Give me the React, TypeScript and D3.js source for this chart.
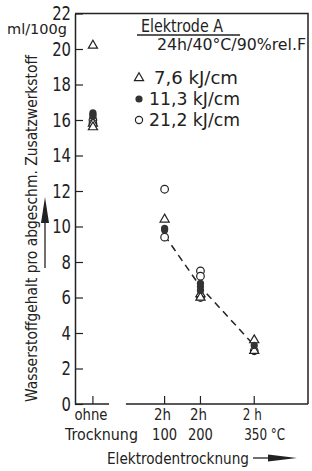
import React, { useRef, useEffect } from 'react';
import * as d3 from 'd3';

// categories on the x axis, placed by drying temperature ("ohne" sits left of the axis break)
const categories = ['ohne', '100', '200', '350'];
const categoryTemps = [-100, 100, 200, 350];
const tickTop = ['ohne', '2h', '2h', '2 h'];
const tickBottom = ['Trocknung', '100', '200', '350 °C'];

const yTicks = [0, 2, 4, 6, 8, 10, 12, 14, 16, 18, 20, 22];

// 7,6 kJ/cm  (open triangles)
const tri76Cats = ['ohne', 'ohne', 'ohne', '100', '200', '200', '350', '350'];
const tri76Values = [20.2, 15.8, 15.6, 10.4, 6.2, 6.0, 3.6, 3.0];

// 11,3 kJ/cm  (filled circles)
const dot113Cats = ['ohne', 'ohne', 'ohne', '100', '100', '200', '200', '200', '350'];
const dot113Values = [16.4, 16.3, 16.2, 9.9, 9.8, 6.8, 6.6, 6.4, 3.3];

// 21,2 kJ/cm  (open circles)
const ring212Cats = ['ohne', 'ohne', '100', '100', '200', '200', '200', '350'];
const ring212Values = [16.0, 15.8, 12.1, 9.4, 7.5, 7.2, 6.0, 3.0];

// dashed trend line
const trendCats = ['100', '200', '350'];
const trendValues = [9.5, 6.6, 3.3];

const legendLabels = ['7,6 kJ/cm', '11,3 kJ/cm', '21,2 kJ/cm'];

const FONT = "'DejaVu Sans', sans-serif";
const INK = '#222';

const App = () => {
    const ref = useRef<SVGSVGElement>(null);

    useEffect(() => {
        const svg = d3.select(ref.current);
        svg.selectAll('*').remove();

        const x = d3.scaleLinear().domain([-150, 500]).range([75, 308]);
        const y = d3.scaleLinear().domain([0, 22]).range([404, 13.5]);
        const xCat = (c: string) => x(categoryTemps[categories.indexOf(c)]);

        const label = (tx: number, ty: number, size: number, text: string, len?: number) => {
            const t = svg.append('text')
                .attr('x', tx).attr('y', ty)
                .attr('font-family', FONT)
                .attr('font-size', size)
                .attr('font-stretch', 'condensed')
                .attr('fill', INK)
                .text(text);
            if (len) t.attr('textLength', len).attr('lengthAdjust', 'spacingAndGlyphs');
            return t;
        };

        // frame top + right
        svg.append('path')
            .attr('d', `M${x(-150)},${y(22)}H${x(500)}V${y(0)}`)
            .attr('fill', 'none')
            .attr('stroke', INK)
            .attr('stroke-width', 1.5);

        // y axis with inward ticks, tall narrow digits
        const sx = 0.78;
        const yAxis = svg.append('g')
            .attr('transform', `translate(${x(-150)},0)`)
            .call(d3.axisLeft(y).tickValues(yTicks).tickSizeInner(-8).tickSizeOuter(0).tickPadding(4));
        yAxis.select('.domain').attr('stroke', INK).attr('stroke-width', 1.5);
        yAxis.selectAll('.tick line').attr('stroke', INK).attr('stroke-width', 1.2);
        yAxis.selectAll('.tick text')
            .attr('font-family', FONT)
            .attr('font-size', 19)
            .attr('transform', `scale(${sx},1)`)
            .attr('x', -4 / sx)
            .attr('fill', INK);

        // broken x axis
        [[-150, -55], [-8, 500]].forEach(([a, b]) => {
            svg.append('line')
                .attr('x1', x(a)).attr('x2', x(b))
                .attr('y1', y(0)).attr('y2', y(0))
                .attr('stroke', INK)
                .attr('stroke-width', 1.5);
        });
        categories.forEach((c, i) => {
            const cx = xCat(c);
            svg.append('line')
                .attr('x1', cx).attr('x2', cx)
                .attr('y1', y(0)).attr('y2', y(0) - 8)
                .attr('stroke', INK)
                .attr('stroke-width', 1.2);
            const topLen = i === 0 ? 33 : i === 3 ? 19 : 17;
            label(cx - 2, 420, 16.5, tickTop[i], topLen).attr('text-anchor', 'middle');
            if (i === 0) label(65, 440, 16.5, tickBottom[i], 73);
            else if (i === 3) label(cx - 10, 440, 16.5, tickBottom[i], 41);
            else label(cx, 440, 16.5, tickBottom[i], 25).attr('text-anchor', 'middle');
        });

        // axis titles
        label(107, 464, 16.5, 'Elektrodentrocknung', 142);
        svg.append('line')
            .attr('x1', 253).attr('x2', 272).attr('y1', 458).attr('y2', 458)
            .attr('stroke', INK).attr('stroke-width', 1.3);
        svg.append('path')
            .attr('d', 'M268,454.5L297,458L268,461.5Z')
            .attr('fill', INK);

        label(0, 0, 15.5, 'Wasserstoffgehalt pro abgeschm. Zusatzwerkstoff', 347)
            .attr('transform', 'translate(37,402) rotate(-90)');
        svg.append('line')
            .attr('x1', 45).attr('x2', 45).attr('y1', 268).attr('y2', 218)
            .attr('stroke', INK).attr('stroke-width', 1.3);
        svg.append('path')
            .attr('d', 'M45,197L49,223L41,223Z')
            .attr('fill', INK);

        label(7, 34, 14.5, 'ml/100g', 60);

        // trend line
        const line = d3.line<number>()
            .x((d, i) => xCat(trendCats[i]))
            .y(d => y(d));
        svg.append('path')
            .datum(trendValues)
            .attr('d', line)
            .attr('fill', 'none')
            .attr('stroke', INK)
            .attr('stroke-width', 1.5)
            .attr('stroke-dasharray', '7,5');

        const triangle = d3.symbol().type(d3.symbolTriangle).size(36);

        // markers
        svg.append('g').selectAll('circle')
            .data(ring212Values)
            .join('circle')
            .attr('cx', (d, i) => xCat(ring212Cats[i]))
            .attr('cy', d => y(d))
            .attr('r', 3.8)
            .attr('fill', 'white')
            .attr('stroke', INK)
            .attr('stroke-width', 1.2);

        svg.append('g').selectAll('path')
            .data(tri76Values)
            .join('path')
            .attr('transform', (d, i) => `translate(${xCat(tri76Cats[i])},${y(d)})`)
            .attr('d', triangle)
            .attr('fill', 'white')
            .attr('stroke', INK)
            .attr('stroke-width', 1.2);

        svg.append('g').selectAll('circle')
            .data(dot113Values)
            .join('circle')
            .attr('cx', (d, i) => xCat(dot113Cats[i]))
            .attr('cy', d => y(d))
            .attr('r', 3.6)
            .attr('fill', '#333');

        // legend
        label(141, 32, 17.5, 'Elektrode A', 82);
        svg.append('line')
            .attr('x1', 137).attr('x2', 240).attr('y1', 35).attr('y2', 35)
            .attr('stroke', INK).attr('stroke-width', 1.3);
        label(157, 50, 16, '24h/40°C/90%rel.F', 149);

        const legendY = [78, 99, 120];
        const legendX = [154, 149, 149];
        const legendLen = [84, 91, 91];
        svg.append('path')
            .attr('transform', `translate(139,${legendY[0]})`)
            .attr('d', triangle)
            .attr('fill', 'white').attr('stroke', INK).attr('stroke-width', 1.2);
        svg.append('circle')
            .attr('cx', 139).attr('cy', legendY[1]).attr('r', 3.6)
            .attr('fill', '#333');
        svg.append('circle')
            .attr('cx', 139).attr('cy', legendY[2]).attr('r', 3.6)
            .attr('fill', 'white').attr('stroke', INK).attr('stroke-width', 1.2);
        legendLabels.forEach((t, i) => {
            label(legendX[i], legendY[i] + 6, 17, t, legendLen[i]);
        });
    }, []);

    return (
        <svg
            ref={ref}
            width={312}
            height={471}
            style={{ position: 'absolute', left: 0, top: 0, background: 'white' }}
        />
    );
};

export default App;
